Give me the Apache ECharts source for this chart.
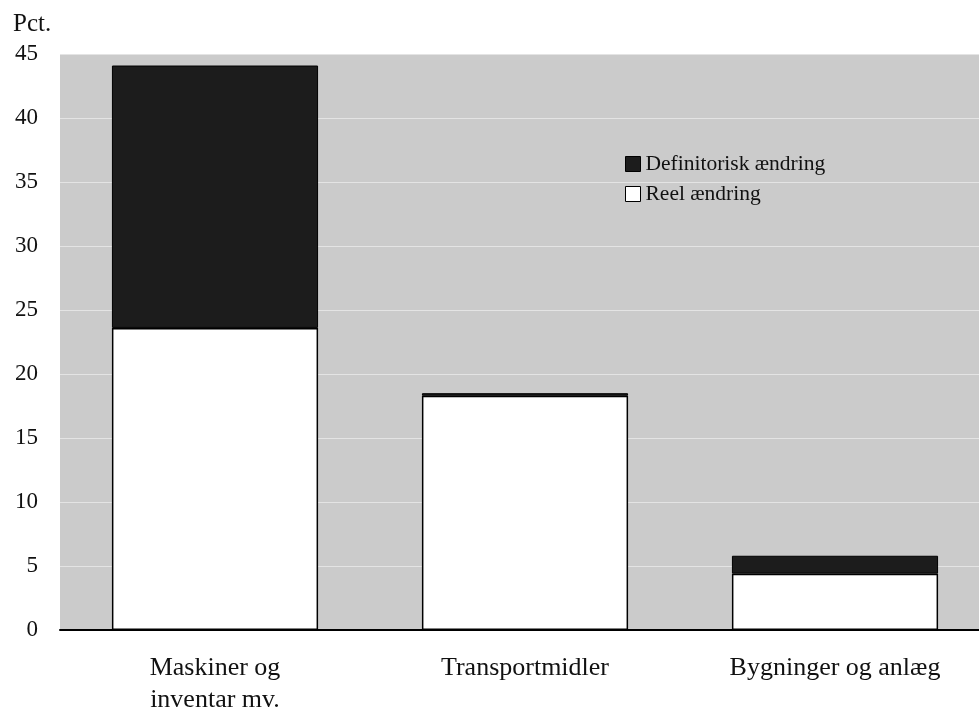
<!DOCTYPE html>
<html>
<head>
<meta charset="utf-8">
<script src="https://cdn.jsdelivr.net/npm/echarts@6/dist/echarts.min.js"></script>
<style>html,body{margin:0;padding:0;background:#fff;}#c{width:979px;height:715px;}</style>
</head>
<body>
<div id="c"></div>
<script>
var categories = ['Maskiner og\ninventar mv.', 'Transportmidler', 'Bygninger og anlæg'];
var reel = [23.6, 18.3, 4.4];
var definitorisk = [20.5, 0.2, 1.4];
var seriesNames = ['Definitorisk ændring', 'Reel ændring'];
var yTicks = [0, 45, 5];

var font = '"Liberation Serif", "Times New Roman", serif';
var chart = echarts.init(document.getElementById('c'));
chart.setOption({
  animation: false,
  backgroundColor: '#ffffff',
  textStyle: { fontFamily: font, color: '#111' },
  grid: { left: 60, top: 54, width: 930, height: 576, show: true, backgroundColor: '#cbcbcb', borderWidth: 0,
          containLabel: false, outerBoundsMode: 'none' },
  title: { text: 'Pct.', left: 8, top: 7, textStyle: { fontFamily: font, fontSize: 25, fontWeight: 'normal', color: '#111' } },
  legend: {
    data: seriesNames,
    orient: 'vertical', left: 620, top: 148, itemWidth: 15, itemHeight: 15, itemGap: 8,
    icon: 'rect',
    textStyle: { fontFamily: font, fontSize: 21.5, color: '#111', padding: [0, 0, 0, 0] },
    itemStyle: { borderColor: '#000', borderWidth: 1 }
  },
  xAxis: {
    type: 'category', data: categories,
    axisLine: { lineStyle: { color: '#000', width: 2 } },
    axisTick: { show: false },
    axisLabel: { fontFamily: font, fontSize: 26, color: '#111', margin: 22, lineHeight: 32 }
  },
  yAxis: {
    type: 'value', min: yTicks[0], max: yTicks[1], interval: yTicks[2],
    axisLine: { show: false }, axisTick: { show: false },
    splitLine: { show: true, lineStyle: { color: '#e4e4e4', width: 1 } },
    axisLabel: { fontFamily: font, fontSize: 23, color: '#111', margin: 22 }
  },
  series: [
    { name: seriesNames[1], type: 'bar', stack: 's', data: reel, barWidth: '66.5%',
      itemStyle: { color: '#ffffff', borderColor: '#000', borderWidth: 1.5 } },
    { name: seriesNames[0], type: 'bar', stack: 's', data: definitorisk, barWidth: '66.5%',
      itemStyle: { color: '#1c1c1c', borderColor: '#000', borderWidth: 1 } }
  ]
});
</script>
</body>
</html>
